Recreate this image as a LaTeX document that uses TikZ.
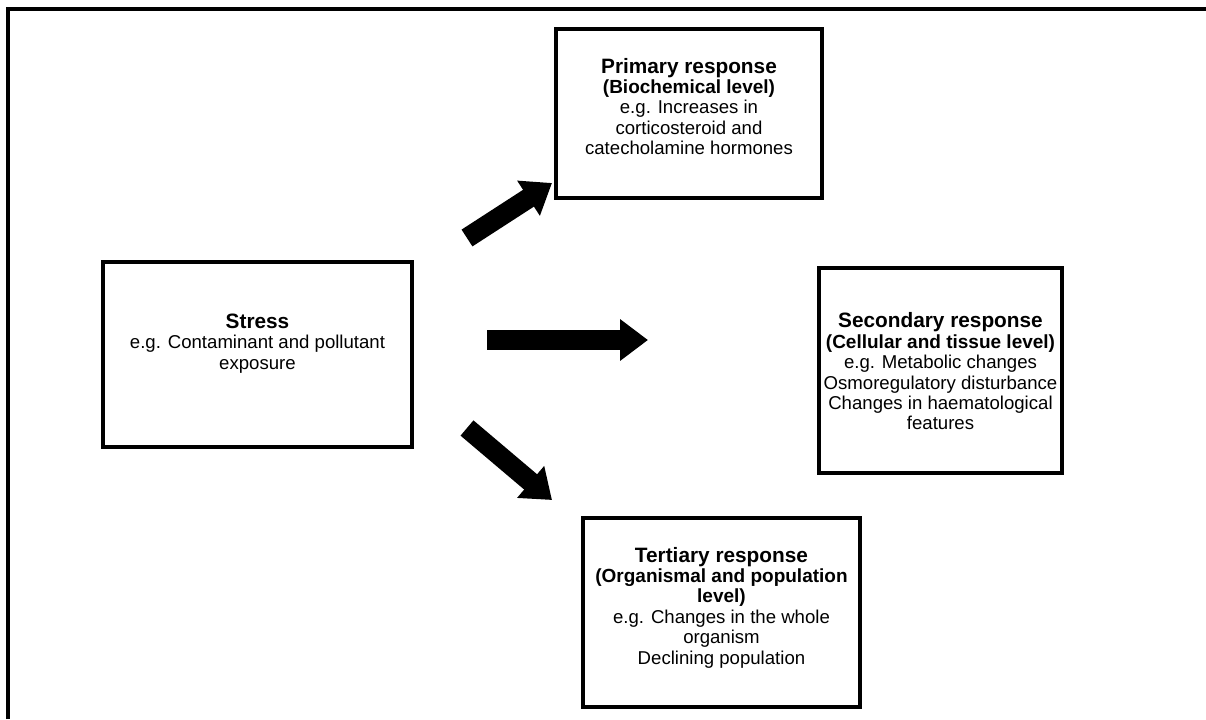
\documentclass[tikz,border=0pt]{standalone}
\usepackage{fontspec}
\setmainfont{Liberation Sans}
\usetikzlibrary{arrows.meta}
\tikzset{
  box/.style={draw, line width=2.2pt, inner sep=0pt},
  boxtext/.style={align=center, inner sep=0pt, font=\fontsize{9.3}{10.2}\selectfont},
  blockarrow/.style={line width=10pt, -{Triangle[width=20pt,length=14pt]}},
  frameline/.style={line width=2pt},
}
\newcommand{\boxtitle}[1]{{\fontsize{10.4}{10.2}\selectfont\bfseries #1}}
\newcommand{\boxsub}[1]{{\fontsize{9.5}{10.2}\selectfont\bfseries #1}}
\begin{document}
\begin{tikzpicture}[x=0.5pt,y=-0.5pt]
\useasboundingbox (0,0) rectangle (1206,719);
\fill[white] (0,0) rectangle (1206,719);
\draw[frameline] (8,719) -- (8,8.5) -- (1206,8.5);

\node[box, minimum width=154.5pt, minimum height=92.5pt] (stress) at (257.5,354.5) {};
\node[boxtext] (stresstext) at ([yshift=5.5pt]stress.center)
  {\boxtitle{Stress}\\ e.g. Contaminant and pollutant\\ exposure};

\node[box, minimum width=133pt, minimum height=84.5pt] (primary) at (689,113.5) {};
\node[boxtext] (primarytext) at ([yshift=3.5pt]primary.center)
  {\boxtitle{Primary response}\\ \boxsub{(Biochemical level)}\\ e.g. Increases in\\ corticosteroid and\\ catecholamine hormones};

\node[box, minimum width=121.5pt, minimum height=102.5pt] (secondary) at (940.5,370.5) {};
\node[boxtext] (secondarytext) at ([yshift=-0.5pt]secondary.center)
  {\boxtitle{Secondary response}\\ \boxsub{(Cellular and tissue level)}\\ e.g. Metabolic changes\\ Osmoregulatory disturbance\\ Changes in haematological\\ features};

\node[box, minimum width=138.5pt, minimum height=94.5pt] (tertiary) at (721.5,612.5) {};
\node[boxtext] (tertiarytext) at ([yshift=2.5pt]tertiary.center)
  {\boxtitle{Tertiary response}\\ \boxsub{(Organismal and population}\\ \boxsub{level)}\\ e.g. Changes in the whole\\ organism\\ Declining population};

\coordinate (a1s) at (467,238);
\coordinate (a1e) at (552,183);
\coordinate (a2s) at (487,340);
\coordinate (a2e) at (648,340);
\coordinate (a3s) at (467,428);
\coordinate (a3e) at (552,500);

\draw[blockarrow] (a1s) -- (a1e);
\draw[blockarrow] (a2s) -- (a2e);
\draw[blockarrow] (a3s) -- (a3e);
\end{tikzpicture}
\end{document}
